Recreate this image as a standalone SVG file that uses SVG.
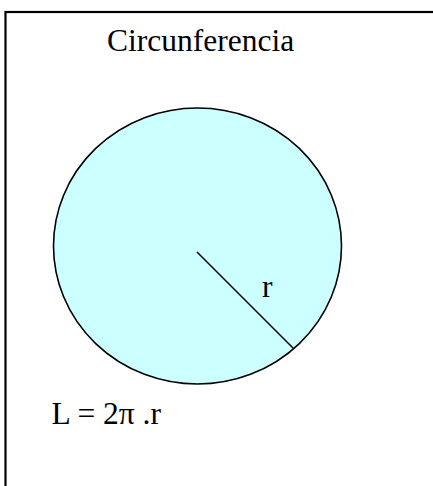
<svg xmlns="http://www.w3.org/2000/svg" width="433" height="486" viewBox="0 0 433 486">
  <style>
    .t { font-family: "Liberation Serif", "Times New Roman", serif; font-size: 31.5px; fill: #000; }
    .ln { stroke: #000; fill: none; }
  </style>
  <rect x="0" y="0" width="433" height="486" fill="#fff"/>
  <g id="frame">
    <rect x="5.5" y="12" width="430" height="480" fill="none" stroke="#000" stroke-width="2.2"/>
  </g>
  <g id="title">
    <text class="t" x="107" y="51">Circunferencia</text>
  </g>
  <g id="circle">
    <ellipse cx="197.5" cy="246" rx="144" ry="138" fill="#CCFFFF" stroke="#000" stroke-width="1.6"/>
  </g>
  <g id="connectors">
    <line class="ln" x1="197" y1="252" x2="293" y2="348" stroke-width="1.6"/>
  </g>
  <g id="radius-label">
    <text class="t" x="262" y="297">r</text>
  </g>
  <g id="formula">
    <text class="t" x="51.5" y="424">L = 2π .r</text>
  </g>
</svg>
